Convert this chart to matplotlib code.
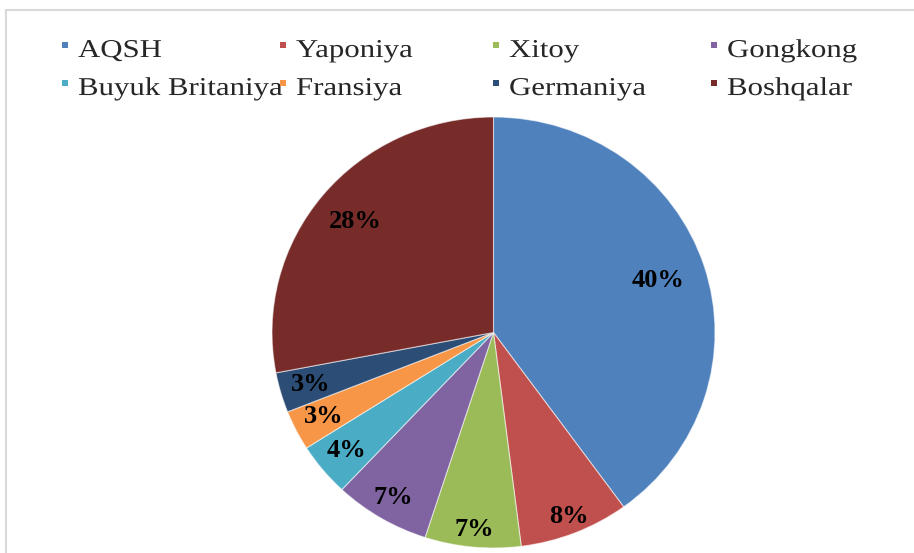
import matplotlib
matplotlib.use("Agg")
import matplotlib.pyplot as plt
from matplotlib.patches import Rectangle
from matplotlib.lines import Line2D
from matplotlib.patheffects import AbstractPathEffect
from matplotlib.transforms import Affine2D
import numpy as np

# ---- data ----
categories = ["AQSH", "Yaponiya", "Xitoy", "Gongkong", "Buyuk Britaniya",
              "Fransiya", "Germaniya", "Boshqalar"]
values = [40, 8, 7, 7, 4, 3, 3, 28]
pct_labels = ["40%", "8%", "7%", "7%", "4%", "3%", "3%", "28%"]
colors = ["#4F81BD", "#C0504D", "#9BBB59", "#8064A2", "#4BACC6",
          "#F79646", "#2C4D75", "#772C2A"]


class HStretch(AbstractPathEffect):
    """Stretch text glyphs horizontally about the text origin."""
    def __init__(self, sx):
        super().__init__()
        self.sx = sx

    def draw_path(self, renderer, gc, tpath, affine, rgbFace=None):
        x0 = affine.get_matrix()[0, 2]
        new = affine + Affine2D().translate(-x0, 0).scale(self.sx, 1).translate(x0, 0)
        renderer.draw_path(gc, tpath, new, rgbFace)


W, H = 914, 553
fig = plt.figure(figsize=(W / 100, H / 100), dpi=100)
fig.patch.set_facecolor("white")

# pie axes (pixel box: x 272..715, y 117..548)
left, right, top, bottom = 272, 715, 117, 548
ax = fig.add_axes([left / W, 1 - bottom / H, (right - left) / W, (bottom - top) / H])
wedges, _ = ax.pie(values, colors=colors, startangle=90, counterclock=False,
                   radius=1.0,
                   wedgeprops=dict(edgecolor=(1, 1, 1, 0.55), linewidth=0.8))
ax.set_aspect("auto")
ax.set_xlim(-1, 1)
ax.set_ylim(-1, 1)
ax.axis("off")

# label radial distances (layout)
label_dist = [0.78, 0.92, 0.92, 0.89, 0.86, 0.86, 0.86, 0.81]
for w, lab, d in zip(wedges, pct_labels, label_dist):
    ang = np.deg2rad((w.theta1 + w.theta2) / 2)
    ax.text(d * np.cos(ang), d * np.sin(ang), lab, ha="center", va="center",
            fontsize=19, fontweight="bold", family=["Liberation Serif", "DejaVu Serif"],
            color="black")

# ---- legend (manual, 2 rows x 4 cols) ----
marker_x = [62, 280, 493, 711]
text_dx = 16
row_base = [57, 95]
for i, (cat, col) in enumerate(zip(categories, colors)):
    r, c = divmod(i, 4)
    mx = marker_x[c]
    my_top = row_base[r] - 15
    fig.patches.append(Rectangle((mx / W, 1 - (my_top + 6) / H), 6 / W, 6 / H,
                                 transform=fig.transFigure, facecolor=col,
                                 edgecolor="none", zorder=3))
    fig.text((mx + text_dx) / W, 1 - row_base[r] / H, cat, ha="left", va="baseline",
             fontsize=18.5, family=["Liberation Serif", "DejaVu Serif"], color="#262626",
             path_effects=[HStretch(1.2)], zorder=2)

# light frame (top and left border)
fig.lines.append(Line2D([6 / W, 1], [1 - 10 / H, 1 - 10 / H], transform=fig.transFigure,
                        color="#d9d9d9", linewidth=1.5))
fig.lines.append(Line2D([6 / W, 6 / W], [1 - 10 / H, 0], transform=fig.transFigure,
                        color="#d9d9d9", linewidth=1.5))

fig.savefig("out.png", dpi=100, facecolor="white")
